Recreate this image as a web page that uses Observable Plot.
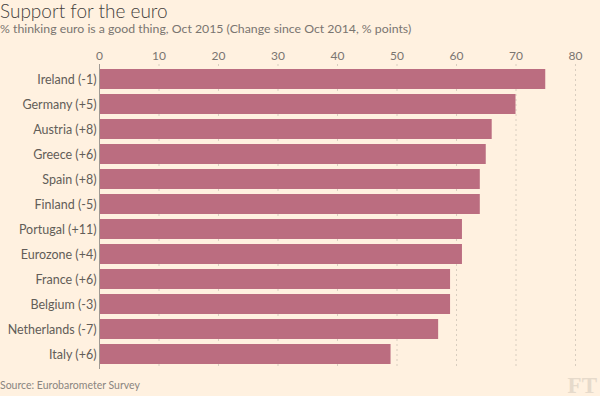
<!DOCTYPE html>
<html>
<head>
<meta charset="utf-8">
<script src="https://cdn.jsdelivr.net/npm/d3@7"></script>
<script src="https://cdn.jsdelivr.net/npm/@observablehq/plot@0.6"></script>
<style>
  html, body { margin: 0; padding: 0; background: #fff1e0; }
  body { width: 600px; height: 396px; position: relative; overflow: hidden; font-family: Lato, "Open Sans", sans-serif; }
  .title { position: absolute; left: 0; top: 0.5px; font-size: 19px; line-height: 19px; color: #43403c; font-weight: 300; white-space: nowrap; }
  .subtitle { position: absolute; left: 0; top: 23.3px; font-size: 12.3px; line-height: 12.3px; color: #7a7570; white-space: nowrap; }
  .source { position: absolute; left: 0; top: 380px; font-size: 10.5px; line-height: 10.5px; color: #8a857f; white-space: nowrap; }
  .ft { position: absolute; right: 3px; top: 373.5px; font-family: "Liberation Serif", serif; font-weight: bold; font-size: 23px; line-height: 23px; color: #e6dacb; }
  #chart { position: absolute; left: 0; top: 40px; }
</style>
</head>
<body>
<div class="title">Support for the euro</div>
<div class="subtitle">% thinking euro is a good thing, Oct 2015 (Change since Oct 2014, % points)</div>
<div id="chart"></div>
<div class="source">Source: Eurobarometer Survey</div>
<div class="ft">FT</div>
<script>
const countries = ["Ireland", "Germany", "Austria", "Greece", "Spain", "Finland", "Portugal", "Eurozone", "France", "Belgium", "Netherlands", "Italy"];
const changes = ["-1", "+5", "+8", "+6", "+8", "-5", "+11", "+4", "+6", "-3", "-7", "+6"];
const values = [75, 70, 66, 65, 64, 64, 61, 61, 59, 59, 57, 49];
const xTicks = [0, 10, 20, 30, 40, 50, 60, 70, 80];

const data = countries.map((c, i) => ({label: `${c} (${changes[i]})`, value: values[i]}));

const chart = Plot.plot({
  width: 600,
  height: 340,
  marginTop: 24,
  marginBottom: 11,
  marginLeft: 99,
  marginRight: 25,
  style: {background: "transparent", fontFamily: "Lato, 'Open Sans', sans-serif"},
  x: {domain: [0, 80], ticks: xTicks},
  y: {domain: data.map(d => d.label), paddingInner: 0.2, paddingOuter: 0.2, round: false},
  marks: [
    Plot.gridX(xTicks, {stroke: "#d8cdbf", strokeOpacity: 1, strokeDasharray: "2,3"}),
    Plot.barX(data, {y: "label", x: "value", fill: "#bb6d80"}),
    Plot.ruleX([0], {stroke: "#a09a93", strokeWidth: 1}),
    Plot.axisX(xTicks, {anchor: "top", tickSize: 0, tickPadding: 5, fontSize: 12, fill: "#7a7570", label: null}),
    Plot.axisY({tickSize: 0, tickPadding: 3, fontSize: 12.5, fill: "#625d58", label: null})
  ]
});
document.getElementById("chart").appendChild(chart);
</script>
</body>
</html>
